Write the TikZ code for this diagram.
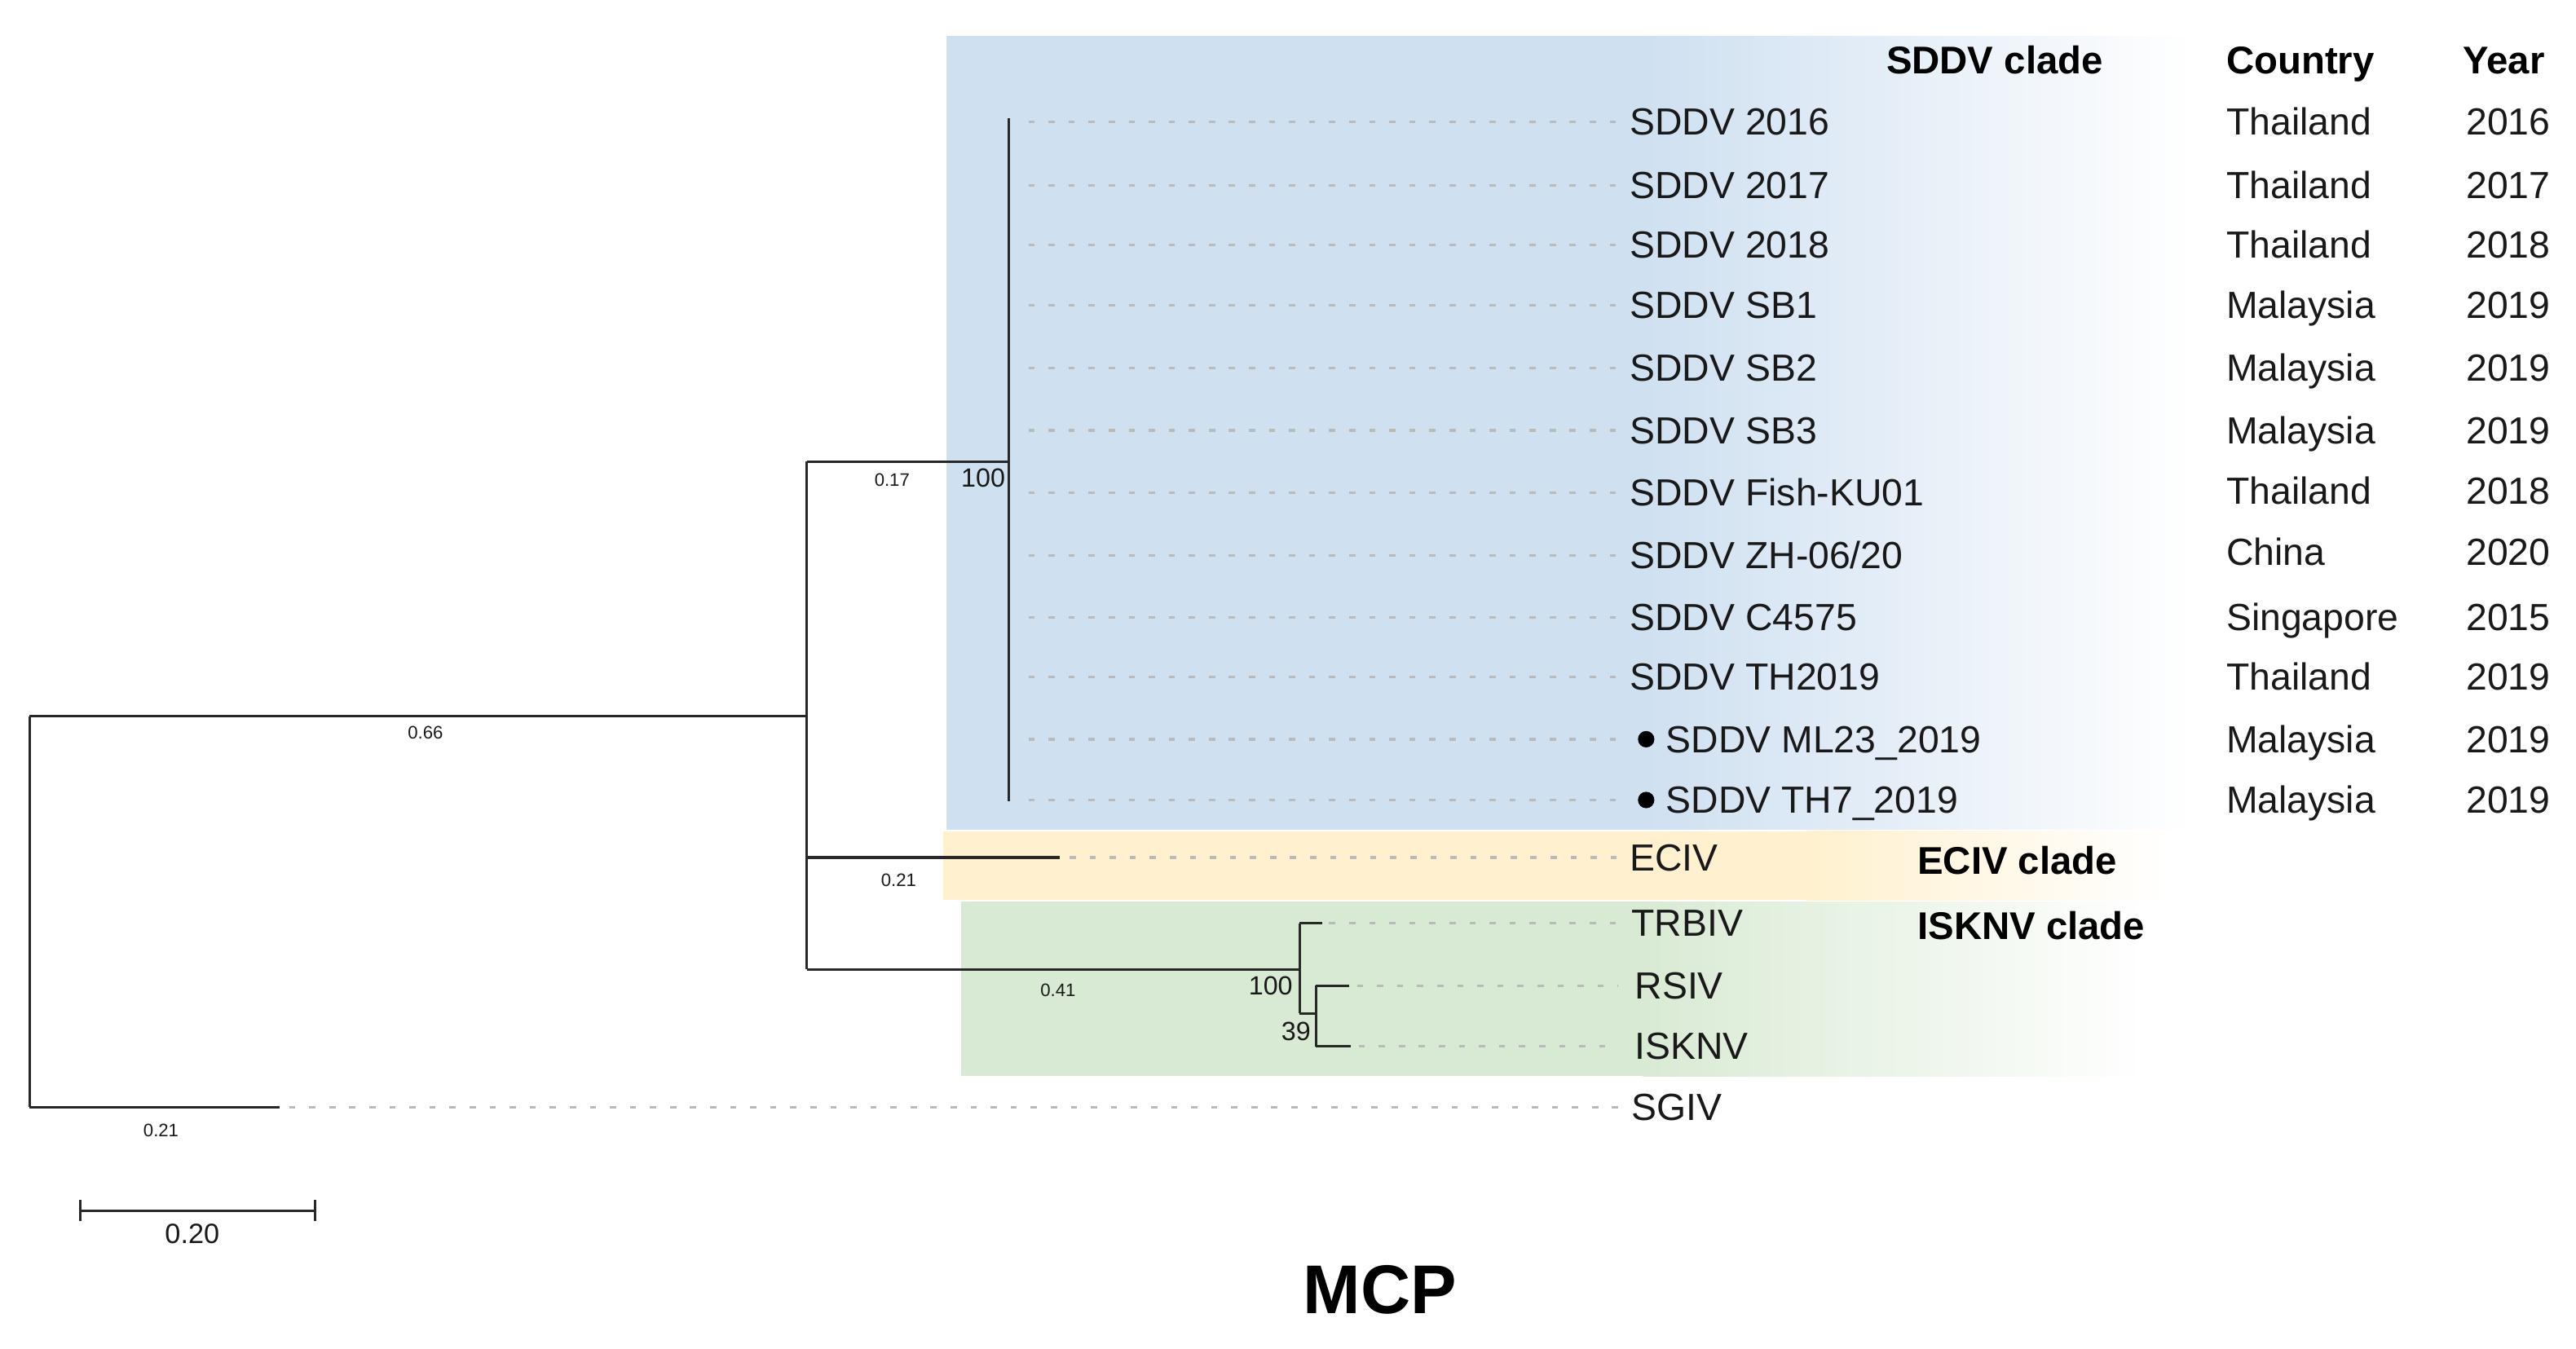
\documentclass[tikz,border=0pt]{standalone}
\usepackage{fontspec}
\setmainfont{Liberation Sans}
\definecolor{bluebg}{RGB}{207,224,241}
\definecolor{yellowbg}{RGB}{255,241,207}
\definecolor{greenbg}{RGB}{217,234,212}
\definecolor{treeline}{RGB}{40,40,40}
\definecolor{leadgray}{RGB}{186,186,186}
\definecolor{txt}{RGB}{25,25,25}
\tikzset{
  branch/.style={draw=treeline, line width=1.5pt},
  leader/.style={draw=leadgray, line width=1.6pt, dash pattern=on 3.8pt off 8.4pt},
  leaf/.style={anchor=base west, inner sep=0pt, text=txt, font=\fontsize{23}{27}\selectfont},
  hdr/.style={anchor=base west, inner sep=0pt, text=black, font=\fontsize{23.5}{27}\selectfont\bfseries},
  blen/.style={inner sep=0pt, text=txt, font=\fontsize{11}{13}\selectfont},
  boot/.style={anchor=east, inner sep=0pt, text=txt, font=\fontsize{16}{18}\selectfont},
}
\newcommand\mkleaf[6]{% name, y, tip x, end x, label x, label
  \coordinate (t#1) at (#3,#2);
  \coordinate (e#1) at (#4,#2);
  \draw[leader] (t#1) -- (e#1);
  \node[leaf] (L#1) at (#5,#2+8) {#6};}
\newcommand\mkinfo[4]{% name, y, country, year
  \node[leaf] (C#1) at (1355,#2+8) {#3};
  \node[leaf] (Y#1) at (1501,#2+8) {#4};}
\begin{document}
\begin{tikzpicture}[x=1pt,y=-1pt]
\useasboundingbox (0,0) rectangle (1568,821);
% clade backgrounds
\fill[bluebg] (576,22) rectangle (1001,505);
\shade[left color=bluebg, right color=white, shading angle=90] (1000,22) rectangle (1335,505);
\fill[yellowbg] (574,506) rectangle (1101,548);
\shade[left color=yellowbg, right color=white, shading angle=90] (1100,506) rectangle (1322,548);
\fill[greenbg] (585,549) rectangle (1001,655);
\shade[left color=greenbg, right color=white, shading angle=90] (1000,549) rectangle (1307,655);

% internal coordinates of the tree
\coordinate (root) at (18,436);
\coordinate (rootb) at (18,674);
\coordinate (nA) at (491,436);
\coordinate (nAtop) at (491,281);
\coordinate (nAbot) at (491,590);
\coordinate (nAmid) at (491,522);
\coordinate (sd) at (614,281);
\coordinate (sdtop) at (614,72);
\coordinate (sdbot) at (614,488);
\coordinate (ec) at (645,522);
\coordinate (is) at (791,590);
\coordinate (istop) at (791,562);
\coordinate (isbot) at (791,617);
\coordinate (tr) at (805,562);
\coordinate (in) at (801,617);
\coordinate (intop) at (801,600);
\coordinate (inbot) at (801,637);
\coordinate (rs) at (821,600);
\coordinate (ik) at (822,637);
\coordinate (sg) at (170,674);

% branches
\draw[branch] (root) -- (rootb);
\draw[branch] (root) -- (nA);
\draw[branch] (nAtop) -- (nAbot);
\draw[branch] (nAtop) -- (sd);
\draw[branch] (sdtop) -- (sdbot);
\draw[branch] (nAmid) -- (ec);
\draw[branch] (nAbot) -- (is);
\draw[branch] (istop) -- (isbot);
\draw[branch] (istop) -- (tr);
\draw[branch] (isbot) -- (in);
\draw[branch] (intop) -- (inbot);
\draw[branch] (intop) -- (rs);
\draw[branch] (inbot) -- (ik);
\draw[branch] (rootb) -- (sg);

% leaves
\mkleaf{a}{74}{626}{985}{992}{SDDV 2016}
\mkleaf{b}{113}{626}{985}{992}{SDDV 2017}
\mkleaf{c}{149}{626}{985}{992}{SDDV 2018}
\mkleaf{d}{186}{626}{985}{992}{SDDV SB1}
\mkleaf{e}{224}{626}{985}{992}{SDDV SB2}
\mkleaf{f}{262}{626}{985}{992}{SDDV SB3}
\mkleaf{g}{300}{626}{985}{992}{SDDV Fish-KU01}
\mkleaf{h}{338}{626}{985}{992}{SDDV ZH-06/20}
\mkleaf{i}{376}{626}{985}{992}{SDDV C4575}
\mkleaf{j}{412}{626}{985}{992}{SDDV TH2019}
\mkleaf{k}{450}{626}{985}{1014}{SDDV ML23\_2019}
\mkleaf{l}{487}{626}{985}{1014}{SDDV TH7\_2019}
\mkleaf{m}{522}{651}{985}{992}{ECIV}
\mkleaf{n}{562}{809}{985}{993}{TRBIV}
\mkleaf{o}{600}{826}{985}{995}{RSIV}
\mkleaf{p}{637}{827}{985}{995}{ISKNV}
\mkleaf{q}{674}{176}{985}{993}{SGIV}
\node[circle, fill=black, inner sep=0pt, minimum size=10pt] (bk) at (1002,450) {};
\node[circle, fill=black, inner sep=0pt, minimum size=10pt] (bl) at (1002,487) {};

% country and year
\mkinfo{a}{74}{Thailand}{2016}
\mkinfo{b}{113}{Thailand}{2017}
\mkinfo{c}{149}{Thailand}{2018}
\mkinfo{d}{186}{Malaysia}{2019}
\mkinfo{e}{224}{Malaysia}{2019}
\mkinfo{f}{262}{Malaysia}{2019}
\mkinfo{g}{299}{Thailand}{2018}
\mkinfo{h}{336}{China}{2020}
\mkinfo{i}{376}{Singapore}{2015}
\mkinfo{j}{412}{Thailand}{2019}
\mkinfo{k}{450}{Malaysia}{2019}
\mkinfo{l}{487}{Malaysia}{2019}

% headers and clade names
\node[hdr] (hsd) at (1148,45) {SDDV clade};
\node[hdr] (hco) at (1355,45) {Country};
\node[hdr] (hyr) at (1499,45) {Year};
\node[hdr] (hec) at (1167,532) {ECIV clade};
\node[hdr] (his) at (1167,572) {ISKNV clade};

% branch lengths
\node[blen] (b066) at (259,446) {0.66};
\node[blen] (b017) at (543,292) {0.17};
\node[blen] (b021a) at (547,536) {0.21};
\node[blen] (b041) at (644,603) {0.41};
\node[blen] (b021b) at (98,688) {0.21};

% bootstrap values
\node[boot] (s100a) at (612,291) {100};
\node[boot] (s100b) at (787,600) {100};
\node[boot] (s39) at (798,628) {39};

% scale bar
\coordinate (sbl) at (49,737);
\coordinate (sbr) at (192,737);
\draw[branch] (sbl) -- (sbr);
\draw[branch] ([yshift=-6.5pt]sbl) -- ([yshift=6.5pt]sbl);
\draw[branch] ([yshift=-6.5pt]sbr) -- ([yshift=6.5pt]sbr);
\node[inner sep=0pt, text=txt, font=\fontsize{17}{19}\selectfont] (sbt) at (117,751) {0.20};

% title
\node[inner sep=0pt, font=\fontsize{42}{46}\selectfont\bfseries] (title) at (840,785) {MCP};
\end{tikzpicture}
\end{document}
